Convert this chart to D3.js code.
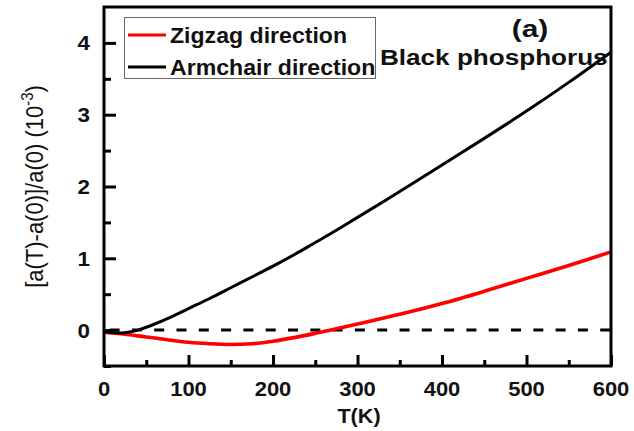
<!DOCTYPE html>
<html>
<head>
<meta charset="utf-8">
<script src="https://cdn.jsdelivr.net/npm/d3@7"></script>
<style>
  html, body { margin: 0; padding: 0; background: #fff; }
  svg { display: block; font-family: "Liberation Sans", Arial, sans-serif; }
</style>
</head>
<body>
<svg id="chart" width="634" height="431"></svg>
<script>
// ---- data ----
const temperature = [0,10,20,30,40,50,60,75,100,125,150,175,200,225,250,275,300,350,400,450,500,550,600];
const zigzag   = [-0.03,-0.04,-0.05,-0.065,-0.08,-0.095,-0.11,-0.135,-0.17,-0.19,-0.20,-0.19,-0.155,-0.105,-0.045,0.02,0.085,0.22,0.37,0.54,0.72,0.90,1.09];
const armchair = [-0.02,-0.035,-0.04,-0.025,0.0,0.04,0.085,0.16,0.30,0.44,0.59,0.74,0.89,1.05,1.22,1.39,1.57,1.93,2.30,2.67,3.05,3.45,3.87];
const seriesNames = ["Zigzag direction", "Armchair direction"];
const seriesColors = ["#ff0000", "#000000"];
const xTicks = [0,100,200,300,400,500,600];
const xMinor = [50,150,250,350,450,550];
const yTicks = [0,1,2,3,4];
const yMinor = [-0.5,0.5,1.5,2.5,3.5];
const xDomain = [0,600];
const yDomain = [-0.5,4.5];

// ---- layout ----
const svg = d3.select("#chart");
const L = 104, R = 611, T = 7, B = 366;
const x = d3.scaleLinear().domain(xDomain).range([L, R]);
const y = d3.scaleLinear().domain(yDomain).range([B, T]);

function stretchedText(g, px, py, str, size, sx, weight, anchor) {
  return g.append("text")
    .attr("transform", `translate(${px},${py}) scale(${sx},1)`)
    .attr("text-anchor", anchor || "start")
    .attr("font-size", size)
    .attr("font-weight", weight || "bold")
    .attr("fill", "#111")
    .text(str);
}

// dashed zero line
svg.append("line")
  .attr("x1", x(0)).attr("x2", x(600))
  .attr("y1", y(0)).attr("y2", y(0))
  .attr("stroke", "#000").attr("stroke-width", 3)
  .attr("stroke-dasharray", "10,12.3")
  .attr("stroke-dashoffset", 16.7);

// curves
const line = d3.line().x(d => x(d[0])).y(d => y(d[1])).curve(d3.curveCatmullRom.alpha(0.5));
[zigzag, armchair].forEach((vals, i) => {
  svg.append("path")
    .datum(temperature.map((t, k) => [t, vals[k]]))
    .attr("d", line)
    .attr("fill", "none")
    .attr("stroke", seriesColors[i])
    .attr("stroke-width", i === 0 ? 3.6 : 3)
    .attr("stroke-linejoin", "round");
});

// frame
svg.append("rect")
  .attr("x", L).attr("y", T).attr("width", R - L).attr("height", B - T)
  .attr("fill", "none").attr("stroke", "#000").attr("stroke-width", 3);

// axes (ticks pointing inward)
const xAxis = d3.axisTop(x).tickValues(xTicks).tickSize(11).tickFormat("");
const xAxisMinor = d3.axisTop(x).tickValues(xMinor).tickSize(6).tickFormat("");
const yAxis = d3.axisRight(y).tickValues(yTicks).tickSize(12).tickFormat("");
const yAxisMinor = d3.axisRight(y).tickValues(yMinor).tickSize(7).tickFormat("");
[[xAxis, `translate(0,${B})`], [xAxisMinor, `translate(0,${B})`],
 [yAxis, `translate(${L},0)`], [yAxisMinor, `translate(${L},0)`]].forEach(([ax, tr]) => {
  const g = svg.append("g").attr("transform", tr).call(ax);
  g.select(".domain").remove();
  g.selectAll(".tick line").attr("stroke", "#000").attr("stroke-width", 3);
});

// tick labels
const labels = svg.append("g");
xTicks.forEach(v => stretchedText(labels, x(v), 396, String(v), 20, 1.1, "bold", "middle"));
yTicks.forEach(v => stretchedText(labels, 90, y(v) + 7.5, String(v), 20, 1.12, "bold", "end"));

// axis titles
stretchedText(labels, 359, 423, "T(K)", 20, 1.08, "bold", "middle");
const yl = svg.append("text")
  .attr("transform", `translate(43,${(T + B) / 2}) scale(1.12,1) rotate(-90)`)
  .attr("text-anchor", "middle")
  .attr("font-size", 22)
  .attr("fill", "#111");
yl.append("tspan").text("[a(T)-a(0)]/a(0) (10");
yl.append("tspan").attr("dy", -9).attr("font-size", 15).text("-3");
yl.append("tspan").attr("dy", 9).text(")");

// legend
const lg = svg.append("g");
lg.append("rect").attr("x", 124.5).attr("y", 17.5).attr("width", 251).attr("height", 61)
  .attr("fill", "#fff").attr("stroke", "#666").attr("stroke-width", 1);
const legendY = [35, 67];
seriesNames.forEach((name, i) => {
  lg.append("line").attr("x1", 128).attr("x2", 166)
    .attr("y1", legendY[i]).attr("y2", legendY[i])
    .attr("stroke", seriesColors[i]).attr("stroke-width", 3);
  stretchedText(lg, 170, legendY[i] + 7.5, name, 22, 1.05, "bold", "start");
});

// annotations
stretchedText(svg, 530, 37, "(a)", 23, 1.3, "bold", "middle");
stretchedText(svg, 380, 65, "Black phosphorus", 22.5, 1.16, "bold", "start");
</script>
</body>
</html>
